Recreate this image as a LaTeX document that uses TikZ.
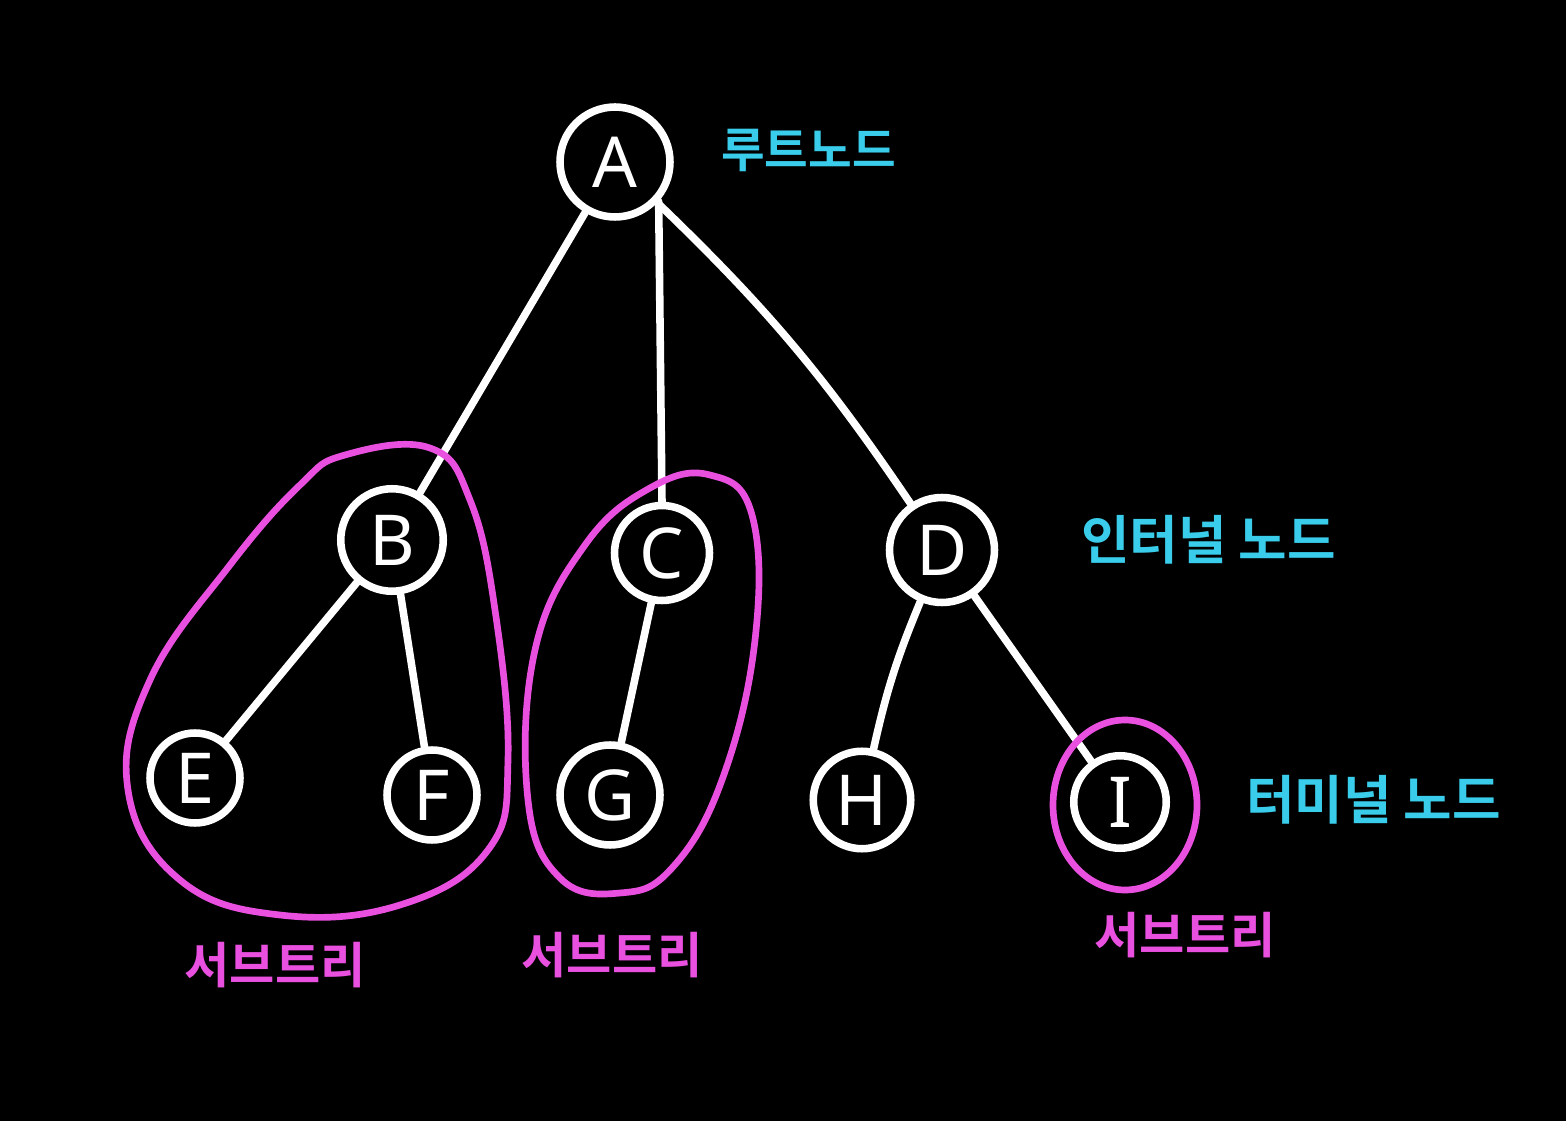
\documentclass[tikz,border=0pt]{standalone}
\usepackage{fontspec}
\newfontfamily\kr{Noto Sans CJK KR Bold}
\setmainfont{Noto Sans}
\definecolor{cy}{HTML}{3ACDEB}
\definecolor{mg}{HTML}{E950E0}
\begin{document}
\begin{tikzpicture}[x=0.02cm,y=-0.02cm,
  tn/.style={circle,draw=white,line width=4.3pt,text=white,inner sep=0pt,font=\fontsize{40}{44}\selectfont},
  edge/.style={white,line width=4.3pt,line cap=round},
  loop/.style={mg,line width=3.8pt},
  lab/.style={cy,font=\kr\fontsize{27}{30}\selectfont,anchor=west},
  sub/.style={mg,font=\kr\fontsize{28}{32}\selectfont}]
\fill[black] (0,0) rectangle (1566,1121);
\useasboundingbox (0,0) rectangle (1566,1121);
\node[tn,minimum size=2.2cm] (A) at (615,162) {A};
\node[tn,minimum size=2.05cm] (B) at (392,540) {B};
\node[tn,minimum size=1.9cm] (C) at (662,553) {C};
\node[tn,minimum size=2.1cm] (D) at (942,550) {D};
\node[tn,minimum size=1.8cm] (E) at (195,778) {E};
\node[tn,minimum size=1.8cm] (F) at (432,795) {F};
\node[tn,minimum size=2.0cm] (G) at (610,795) {G};
\node[tn,minimum size=1.95cm] (H) at (862,800) {H};
\node[tn,minimum size=1.85cm] (I) at (1120,802) {I};
\draw[edge] (A) -- (B);
\draw[edge] (A.-42) -- (C.north);
\draw[edge] (A) to[bend left=6] (D);
\draw[edge] (B) -- (E);
\draw[edge] (B) -- (F);
\draw[edge] (C) -- (G);
\draw[edge] (D) to[bend right=5] (H);
\draw[edge] (D) -- (I);
\draw[loop] plot[smooth cycle,tension=0.7] coordinates {(345,455) (430,448) (470,500) (495,610) (508,760) (488,850) (400,905) (280,915) (180,880) (128,790) (150,680) (230,565) (300,485)};
\draw[loop] plot[smooth cycle,tension=0.7] coordinates {(650,488) (710,475) (752,515) (755,640) (722,780) (672,868) (620,893) (560,878) (528,800) (535,650) (585,545)};
\draw[loop] (1125,805) ellipse (72 and 85);
\node[lab] (t1) at (715,150) {루트노드};
\node[lab] (t2) at (1075,540) {\fontsize{30}{34}\selectfont 인터널 노드};
\node[lab] (t3) at (1240,800) {\fontsize{30}{34}\selectfont 터미널 노드};
\node[sub] (s1) at (275,965) {서브트리};
\node[sub] (s2) at (612,955) {서브트리};
\node[sub] (s3) at (1185,935) {서브트리};
\end{tikzpicture}
\end{document}
